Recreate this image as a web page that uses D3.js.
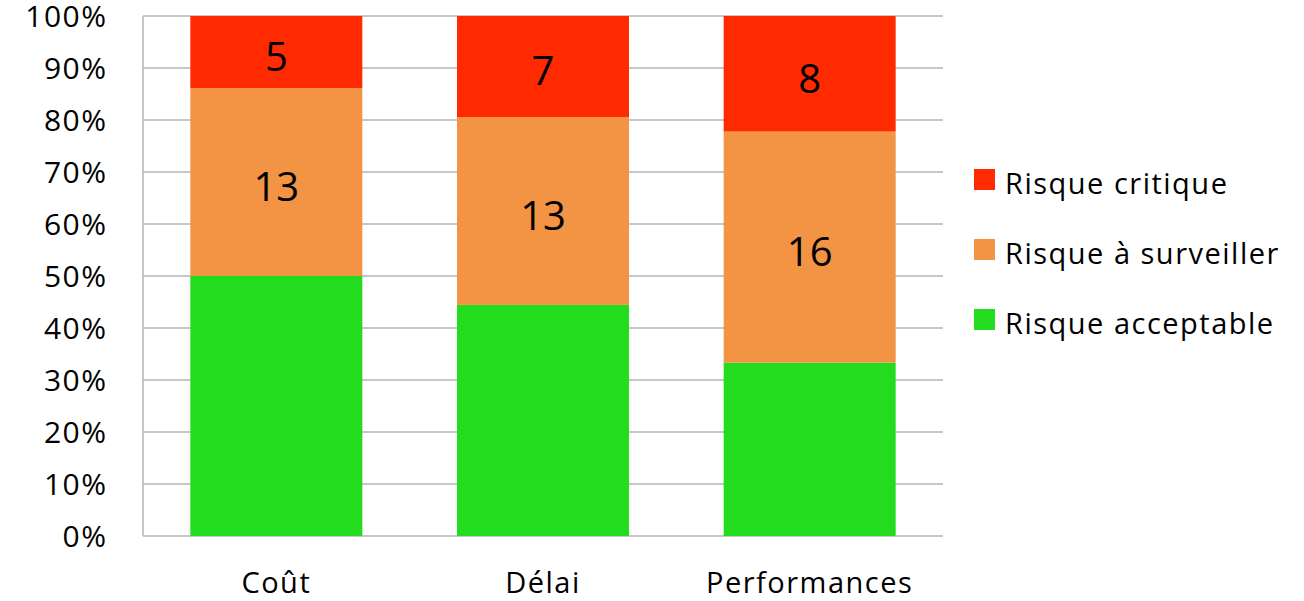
<!DOCTYPE html>
<html>
<head>
<meta charset="utf-8">
<script src="https://cdn.jsdelivr.net/npm/d3@7"></script>
<style>
  body { margin: 0; background: #fff; }
  svg text { font-family: "Open Sans", Lato, sans-serif; fill: #000; }
</style>
</head>
<body>
<div id="chart"></div>
<script>
// Data
const categories = ["Coût", "Délai", "Performances"];
const acceptable = [18, 16, 12];
const surveiller = [13, 13, 16];
const critique = [5, 7, 8];
const yTicks = [0, 0.1, 0.2, 0.3, 0.4, 0.5, 0.6, 0.7, 0.8, 0.9, 1];

const seriesNames = ["Risque acceptable", "Risque à surveiller", "Risque critique"];
const colors = ["#24DC1E", "#F29444", "#FF2A00"];

const width = 1304;
const height = 601;
const margin = { top: 16, right: 361, bottom: 65, left: 143 };
const innerW = width - margin.left - margin.right;
const innerH = height - margin.top - margin.bottom;

const rows = categories.map((c, i) => ({
  cat: c,
  s0: acceptable[i],
  s1: surveiller[i],
  s2: critique[i],
}));

const stack = d3.stack().keys(["s0", "s1", "s2"]).offset(d3.stackOffsetExpand);
const stacked = stack(rows);

const svg = d3
  .select("#chart")
  .append("svg")
  .attr("width", width)
  .attr("height", height);

const g = svg.append("g").attr("transform", `translate(${margin.left},${margin.top})`);

const x = d3
  .scaleBand()
  .domain(categories)
  .range([0, innerW])
  .paddingInner(0.355)
  .paddingOuter(0.1775);

const y = d3.scaleLinear().domain([0, 1]).range([innerH, 0]);

// Gridlines
g.selectAll("line.grid")
  .data(yTicks)
  .enter()
  .append("line")
  .attr("x1", 0)
  .attr("x2", innerW)
  .attr("y1", (d) => y(d))
  .attr("y2", (d) => y(d))
  .attr("stroke", "#b5b5b5")
  .attr("stroke-width", 1.5);

// Left axis line
g.append("line")
  .attr("x1", 0)
  .attr("x2", 0)
  .attr("y1", 0)
  .attr("y2", innerH)
  .attr("stroke", "#b5b5b5")
  .attr("stroke-width", 1.5);

// Y tick labels
g.selectAll("text.ytick")
  .data(yTicks)
  .enter()
  .append("text")
  .attr("x", -35.5)
  .attr("y", (d) => y(d))
  .attr("dy", "0.36em")
  .attr("text-anchor", "end")
  .style("font-size", "30px")
  .style("letter-spacing", "1.5px")
  .text((d) => d3.format(".0%")(d));

// Bars
const layers = g
  .selectAll("g.layer")
  .data(stacked)
  .enter()
  .append("g")
  .attr("fill", (d, i) => colors[i]);

layers
  .selectAll("rect")
  .data((d) => d)
  .enter()
  .append("rect")
  .attr("x", (d) => x(d.data.cat))
  .attr("y", (d) => y(d[1]))
  .attr("width", x.bandwidth())
  .attr("height", (d) => y(d[0]) - y(d[1]));

// Value labels (orange and red only)
stacked.slice(1).forEach((layer) => {
  g.selectAll(null)
    .data(layer)
    .enter()
    .append("text")
    .attr("x", (d) => x(d.data.cat) + x.bandwidth() / 2)
    .attr("y", (d) => (y(d[0]) + y(d[1])) / 2)
    .attr("dy", "0.47em")
    .attr("text-anchor", "middle")
    .style("font-size", "40px")
    .text((d) => d.data[layer.key]);
});

// Category labels
g.selectAll("text.cat")
  .data(categories)
  .enter()
  .append("text")
  .attr("x", (d) => x(d) + x.bandwidth() / 2)
  .attr("y", innerH + 57)
  .attr("text-anchor", "middle")
  .style("font-size", "29px")
  .style("letter-spacing", "1.5px")
  .text((d) => d);

// Legend (reverse order: critique on top)
const legendOrder = [2, 1, 0];
const legend = svg
  .append("g")
  .attr("transform", "translate(974,169)");

legendOrder.forEach((si, k) => {
  const row = legend.append("g").attr("transform", `translate(0,${k * 70})`);
  row.append("rect").attr("width", 21).attr("height", 21).attr("fill", colors[si]);
  row
    .append("text")
    .attr("x", 31)
    .attr("y", 25)
    .style("font-size", "29px")
    .style("letter-spacing", "1.5px")
    .text(seriesNames[si]);
});
</script>
</body>
</html>
